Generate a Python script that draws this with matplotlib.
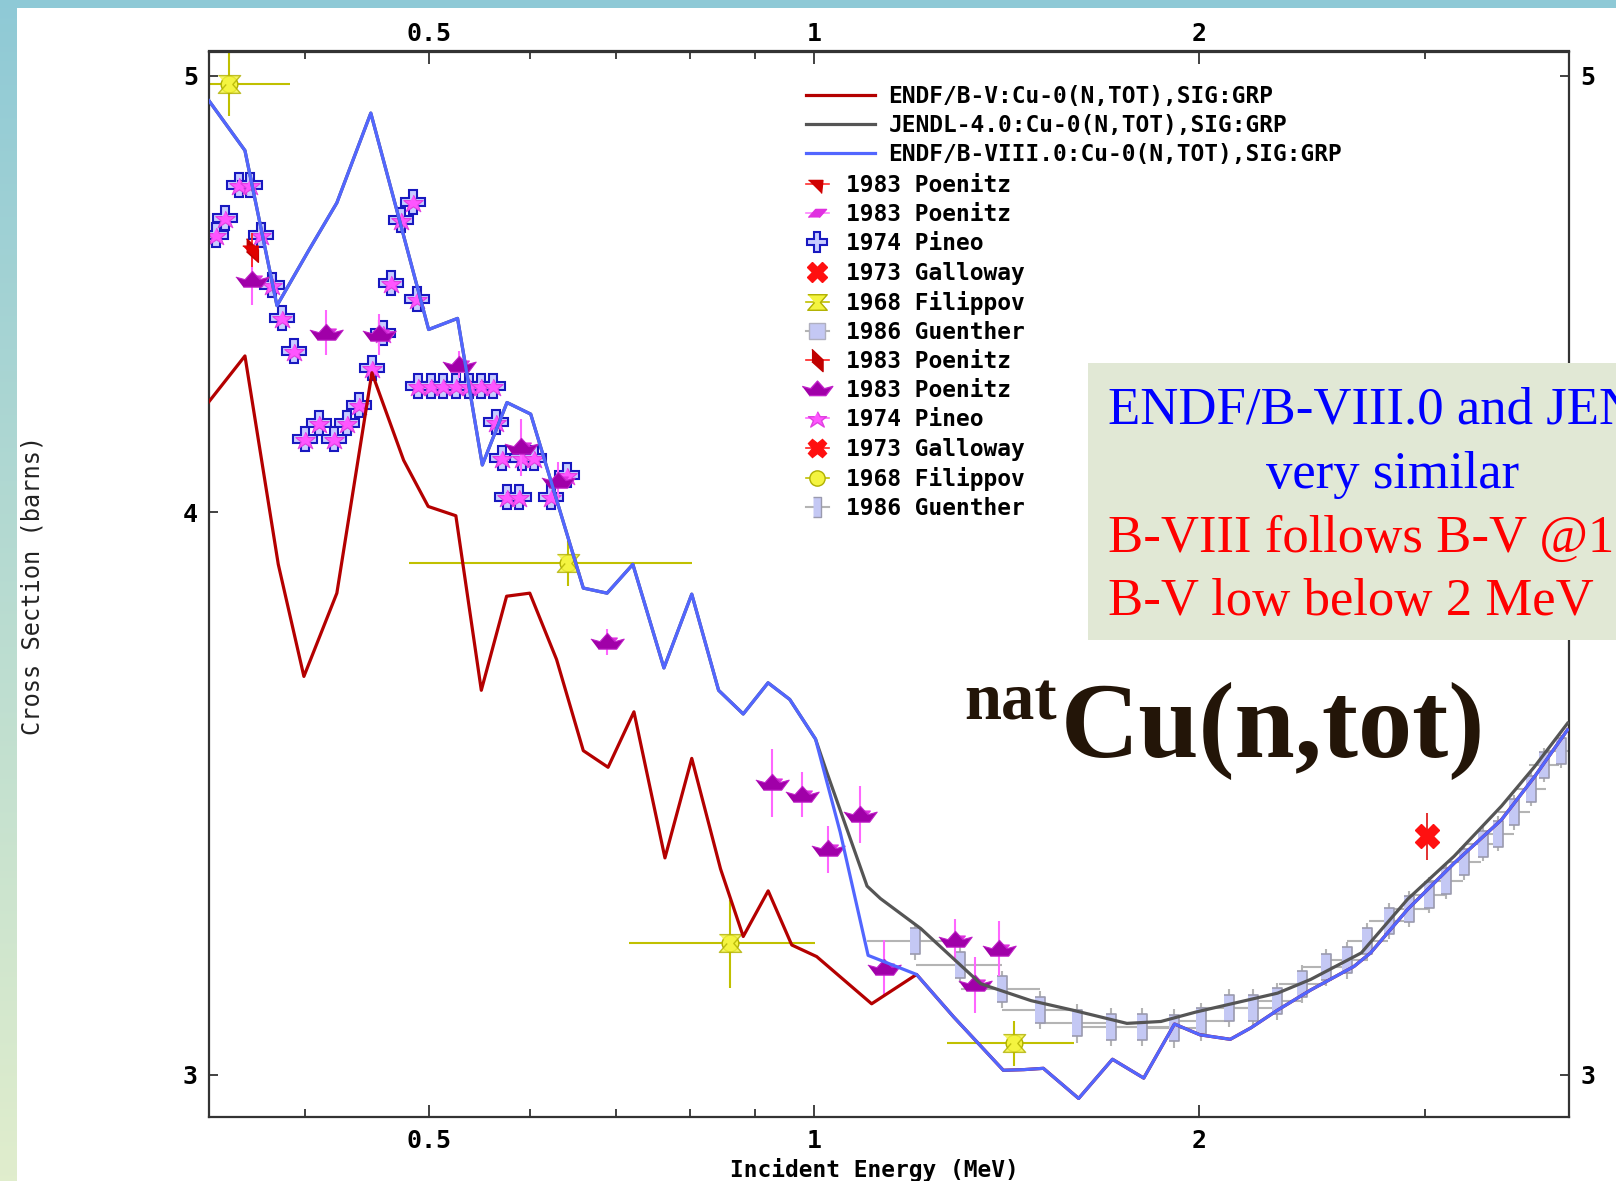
import numpy as np
import matplotlib.pyplot as plt
from matplotlib.lines import Line2D
from matplotlib.patches import Rectangle
from matplotlib.ticker import NullFormatter

plt.rcParams['font.family'] = ['DejaVu Sans Mono']
plt.rcParams['font.weight'] = 'bold'
plt.rcParams['font.size'] = 16.5

# ---- evaluated data, natCu total cross section (MeV, barns)
e_b8 = [0.3368, 0.3593, 0.3806, 0.4031, 0.4239, 0.4506, 0.4747, 0.5000, 0.5267,
        0.5507, 0.5757, 0.6008, 0.6604, 0.6893, 0.7220, 0.7635, 0.8027, 0.8424,
        0.8806, 0.9208, 0.9574, 1.0029, 1.0485, 1.1024, 1.2028, 1.286, 1.406,
        1.459, 1.511, 1.610, 1.711, 1.810, 1.913, 2.003, 2.115, 2.195, 2.303,
        2.444, 2.642, 2.722, 2.910, 3.164, 3.445, 3.656, 3.880]
s_b8 = [4.937, 4.813, 4.446, 4.574, 4.686, 4.906, 4.642, 4.392, 4.417,
        4.098, 4.231, 4.206, 3.848, 3.838, 3.895, 3.694, 3.836, 3.652,
        3.608, 3.666, 3.635, 3.562, 3.396, 3.189, 3.158, 3.090, 3.007,
        3.008, 3.010, 2.964, 3.024, 2.995, 3.079, 3.062, 3.055, 3.073, 3.101,
        3.133, 3.171, 3.193, 3.265, 3.343, 3.418, 3.494, 3.579]

e_b5_low = [0.3368, 0.3593, 0.3815, 0.3995, 0.4239, 0.4515, 0.4780, 0.4996,
            0.5251, 0.5497, 0.5753, 0.5998, 0.6294, 0.6604, 0.6905, 0.7234,
            0.7649, 0.8027, 0.8454, 0.8806, 0.921, 0.9609, 1.005, 1.1094]
s_b5_low = [4.233, 4.333, 3.895, 3.678, 3.838, 4.296, 4.108, 4.012,
            3.993, 3.652, 3.832, 3.838, 3.710, 3.541, 3.511, 3.612,
            3.352, 3.527, 3.333, 3.220, 3.296, 3.206, 3.187, 3.111]

e_jendl_hi = [1.0235, 1.1003, 1.1271, 1.2120, 1.350, 1.478, 1.592, 1.756, 1.867,
              1.989, 2.303, 2.444, 2.677, 2.910, 3.164, 3.445, 3.656, 3.880]
s_jendl_hi = [3.502, 3.304, 3.283, 3.233, 3.143, 3.116, 3.101, 3.080, 3.083,
              3.098, 3.128, 3.150, 3.193, 3.282, 3.355, 3.442, 3.512, 3.591]

# B-V = B-VIII above 1.2 MeV, JENDL = B-VIII below 1 MeV
e_b5 = e_b5_low + e_b8[24:]
s_b5 = s_b5_low + s_b8[24:]
e_jendl = e_b8[:22] + e_jendl_hi
s_jendl = s_b8[:22] + s_jendl_hi

# ---- EXFOR data
e_poe_r = [0.3639]
s_poe_r = [4.575]
d_poe_r = [0.04]

e_poe = [0.3639, 0.4154, 0.4572, 0.5281, 0.5900, 0.6305, 0.6890, 0.9272, 0.9785,
         1.0265, 1.0874, 1.1337, 1.2897, 1.3373, 1.3948]
s_poe = [4.505, 4.385, 4.381, 4.314, 4.135, 4.065, 3.744, 3.483, 3.462,
         3.367, 3.427, 3.169, 3.214, 3.142, 3.200]
d_poe = [0.058, 0.051, 0.045, 0.03, 0.06, 0.04, 0.025, 0.061, 0.04,
         0.04, 0.05, 0.045, 0.035, 0.045, 0.045]

e_pin = [0.3408, 0.3469, 0.3553, 0.3628, 0.3695, 0.3772, 0.3842, 0.3924, 0.4006,
         0.4103, 0.4216, 0.4318, 0.4409, 0.4518, 0.4604, 0.4669, 0.4754, 0.4861,
         0.4899, 0.4908, 0.5018, 0.5131, 0.5254, 0.5376, 0.5497, 0.5610, 0.5641,
         0.5709, 0.5918, 0.6043, 0.6417, 0.5761, 0.5882, 0.6226]
s_pin = [4.610, 4.650, 4.729, 4.729, 4.610, 4.494, 4.417, 4.344, 4.152,
         4.187, 4.152, 4.187, 4.226, 4.307, 4.385, 4.497, 4.646, 4.689,
         4.460, 4.266, 4.266, 4.266, 4.266, 4.266, 4.266, 4.266, 4.190,
         4.113, 4.113, 4.113, 4.078, 4.032, 4.032, 4.032]

e_gal = [3.013]
s_gal = [3.389]
d_gal = [0.04]

e_fil = [0.3489, 0.6429, 0.8591, 1.4345]
s_fil = [4.980, 3.897, 3.209, 3.049]
dx_fil = [0.041, 0.160, 0.142, 0.163]
dy_fil = [0.082, 0.045, 0.072, 0.035]

e_gue = [1.2002, 1.3016, 1.4031, 1.5031, 1.6057, 1.7052, 1.8055, 1.9111, 2.007,
         2.1105, 2.2038, 2.3024, 2.4082, 2.5117, 2.6115, 2.7070, 2.8149, 2.9179,
         3.0245, 3.117, 3.222, 3.330, 3.421, 3.525, 3.633, 3.721, 3.834]
s_gue = [3.212, 3.174, 3.134, 3.101, 3.080, 3.075, 3.075, 3.072, 3.083,
         3.104, 3.104, 3.115, 3.143, 3.170, 3.181, 3.212, 3.245, 3.265,
         3.289, 3.313, 3.345, 3.376, 3.394, 3.431, 3.473, 3.515, 3.540]
dx_gue = 0.1
dy_gue = 0.03

x_major = [0.5, 1, 2]
x_major_lab = ['0.5', '1', '2']
x_minor = [0.4, 0.6, 0.7, 0.8, 0.9, 3]
y_major = [3, 4, 5]
y_major_lab = ['3', '4', '5']

labels_lines = ['ENDF/B-V:Cu-0(N,TOT),SIG:GRP',
                'JENDL-4.0:Cu-0(N,TOT),SIG:GRP',
                'ENDF/B-VIII.0:Cu-0(N,TOT),SIG:GRP']
labels_data = ['1983 Poenitz', '1983 Poenitz', '1974 Pineo', '1973 Galloway',
               '1968 Filippov', '1986 Guenther', '1983 Poenitz', '1983 Poenitz',
               '1974 Pineo', '1973 Galloway', '1968 Filippov', '1986 Guenther']

c_b5, c_jendl, c_b8 = '#b40000', '#555555', '#5266ff'

# marker shapes
crown = [(-1.0, 0.2), (-0.45, 0.05), (0.0, 0.55), (0.45, 0.05), (1.0, 0.2),
         (0.55, -0.4), (-0.55, -0.4)]
star = [(0, 0.75), (0.3, 0.2), (1, 0.2), (0.45, -0.25), (0.75, -0.95), (0, -0.45),
        (-0.75, -0.95), (-0.45, -0.25), (-1, 0.2), (-0.3, 0.2)]
hourglass = [(-1, 0.8), (1, 0.8), (0.3, 0), (1, -0.8), (-1, -0.8), (-0.3, 0)]
flag = [(-1, 0.45), (0.6, 0.45), (0.45, -1)]
diagflag = [(-0.5, 1), (0.5, 0.05), (0.5, -1), (-0.5, -0.1)]
para = [(-1, -0.45), (-0.2, 0.45), (1, 0.45), (0.2, -0.45)]
slab = [(-0.4, -1), (0.4, -1), (0.4, 1), (-0.4, 1)]

W, H = 1616, 1181
fig = plt.figure(figsize=(W / 100, H / 100), dpi=100)

# slide border
bg = np.ones((H, W, 3))
t = np.linspace(0, 1, H)[:, None]
top_c = np.array([0.56, 0.79, 0.84])
bot_c = np.array([0.88, 0.93, 0.80])
bg[:, :17] = (top_c * (1 - t) + bot_c * t)[:, None, :]
bg[:8, :] = top_c
fig.figimage(bg, 0, 0, origin='upper', zorder=-5)

ax = fig.add_axes([209 / W, 1 - 1117 / H, 1360 / W, 1065.5 / H])
ax.set_xscale('log')
ax.set_yscale('log')

# experimental points
ax.errorbar(e_gue, s_gue, xerr=dx_gue, yerr=dy_gue, fmt='none', ecolor='#b4b4b4',
            elinewidth=1.5, zorder=2)
ax.plot(e_gue, s_gue, ls='none', marker=slab, ms=19, mfc='#c4c8f4', mec='#9a9aae',
        mew=1.2, zorder=2.2)

ax.errorbar(e_fil, s_fil, xerr=dx_fil, yerr=dy_fil, fmt='none', ecolor='#c0c000',
            elinewidth=1.5, zorder=2)
ax.plot(e_fil, s_fil, ls='none', marker='o', ms=12, mfc='#f4f440', mec='#b0b000',
        zorder=2.2)
ax.plot(e_fil, s_fil, ls='none', marker=hourglass, ms=16, mfc='#f4f440',
        mec='#b0b000', mew=1, alpha=0.8, zorder=2.3)

ax.plot(e_pin, s_pin, ls='none', marker='P', ms=17, mfc='#c8ccff', mec='#1818c0',
        mew=1.5, zorder=2.4)
ax.plot(e_pin, s_pin, ls='none', marker=star, ms=14, mfc='#ff55ff', mec='#e040e0',
        mew=0.8, zorder=2.5)

ax.errorbar(e_poe, s_poe, yerr=d_poe, fmt='none', ecolor='#ff66ff', elinewidth=1.5,
            zorder=2.6)
ax.plot(e_poe, s_poe, ls='none', marker=para, ms=14, mfc='#e030e0', mec='#e030e0',
        zorder=2.6)
ax.plot(e_poe, s_poe, ls='none', marker=crown, ms=24, mfc='#a000a8', mec='#c020c8',
        mew=0.8, zorder=2.7)

ax.errorbar(e_poe_r, s_poe_r, yerr=d_poe_r, fmt='none', ecolor='#ff2020',
            elinewidth=1.3, zorder=2.6)
ax.plot(e_poe_r, s_poe_r, ls='none', marker=diagflag, ms=17, mfc='#c00000',
        mec='#c00000', zorder=2.7)
ax.plot(e_poe_r, s_poe_r, ls='none', marker=flag, ms=14, mfc='#e00000',
        mec='#e00000', zorder=2.8)

ax.errorbar(e_gal, s_gal, yerr=d_gal, fmt='none', ecolor='#e02020', elinewidth=1.3,
            zorder=2.6)
ax.plot(e_gal, s_gal, ls='none', marker='X', ms=17, mfc='#ff1010', mec='#ff1010',
        zorder=2.8)

# evaluations
ax.plot(e_b5, s_b5, color=c_b5, lw=2.3, zorder=3)
ax.plot(e_jendl, s_jendl, color=c_jendl, lw=2.3, zorder=3.1)
ax.plot(e_b8, s_b8, color=c_b8, lw=2.3, zorder=3.2)

ax.set_xlim(0.3368, 3.89)
ax.set_ylim(2.936, 5.063)

ax.set_xticks(x_major)
ax.set_xticklabels(x_major_lab)
ax.set_xticks(x_minor, minor=True)
ax.xaxis.set_minor_formatter(NullFormatter())
ax.set_yticks(y_major)
ax.set_yticklabels(y_major_lab)
ax.set_yticks([], minor=True)
ax.yaxis.set_minor_formatter(NullFormatter())
ax.tick_params(which='both', direction='in', top=False, labeltop=False, right=True,
               labelright=True, width=1.3, color='#333333', labelsize=18)
ax.tick_params(axis='x', which='major', length=9, pad=8.5)
ax.tick_params(axis='x', which='minor', length=5.5)
ax.tick_params(axis='y', which='major', length=6.5, pad=8)
for sp in ax.spines.values():
    sp.set_linewidth(1.6)
    sp.set_color('#333333')

# top energy axis, labels sit closer to the frame
top = ax.secondary_xaxis('top')
top.set_xticks(x_major)
top.set_xticklabels(x_major_lab)
top.set_xticks(x_minor, minor=True)
top.xaxis.set_minor_formatter(NullFormatter())
top.tick_params(which='both', direction='in', width=1.3, color='#333333',
                labelsize=18, pad=4)
top.tick_params(which='major', length=9)
top.tick_params(which='minor', length=5.5)
top.spines['top'].set_linewidth(1.6)
top.spines['top'].set_color('#333333')

fig.text(874 / W, 1 - 1177 / H, 'Incident Energy (MeV)', ha='center', va='baseline',
         fontsize=16.5)
fig.text(33 / W, 1 - 585 / H, 'Cross Section (barns)', rotation=90, ha='center',
         va='center', fontsize=17, weight='normal', color='#222222')

# legends
line_handles = [Line2D([], [], color=c, lw=2.3) for c in (c_b5, c_jendl, c_b8)]
data_handles = [
    Line2D([], [], color='#ff3030', lw=1.2, marker=flag, ms=13, mfc='#d00000', mec='#d00000'),
    Line2D([], [], color='#ff80ff', lw=1.2, marker=para, ms=13, mfc='#e030e0', mec='#e030e0'),
    Line2D([], [], ls='none', marker='P', ms=15, mfc='#c8ccff', mec='#1818c0', mew=1.5),
    Line2D([], [], ls='none', marker='X', ms=15, mfc='#ff1010', mec='#ff1010'),
    Line2D([], [], color='#c0c000', lw=1.2, marker=hourglass, ms=14, mfc='#f4f440', mec='#b0b000'),
    Line2D([], [], color='#b4b4b4', lw=1.5, marker='s', ms=11, mfc='#c4c8f4', mec='#b0b0c0'),
    Line2D([], [], color='#ff2020', lw=1.2, marker=diagflag, ms=16, mfc='#c00000', mec='#c00000'),
    Line2D([], [], ls='none', marker=crown, ms=22, mfc='#a000a8', mec='#c020c8'),
    Line2D([], [], color='#ff66ff', lw=1.2, marker=star, ms=13, mfc='#ff55ff', mec='#e040e0'),
    Line2D([], [], color='#ff2020', lw=1.2, marker='X', ms=13, mfc='#ff1010', mec='#ff1010'),
    Line2D([], [], color='#c0c000', lw=1.2, marker='o', ms=11, mfc='#f4f440', mec='#b0b000'),
    Line2D([], [], color='#b4b4b4', lw=1.5, marker=slab, ms=15, mfc='#c4c8f4', mec='#9a9aae'),
]
prop = {'family': 'DejaVu Sans Mono', 'weight': 'bold', 'size': 16.5}
fig.legend(line_handles, labels_lines, loc='upper left',
           bbox_to_anchor=(806 / W, 1 - 85 / H), frameon=False, borderpad=0,
           borderaxespad=0, handlelength=3.0, handletextpad=0.6, labelspacing=0.27,
           prop=prop)
fig.legend(data_handles, labels_data, loc='upper left',
           bbox_to_anchor=(806 / W, 1 - 174 / H), frameon=False, borderpad=0,
           borderaxespad=0, handlelength=1.0, handletextpad=0.75, labelspacing=0.27,
           prop=prop)

# comment box
fig.add_artist(Rectangle((1088 / W, 1 - 640 / H), (W - 1088) / W, 277 / H,
                         transform=fig.transFigure, facecolor='#e1e8d5',
                         edgecolor='none', zorder=6))
serif = {'family': 'Liberation Serif', 'weight': 'normal', 'size': 38, 'zorder': 7}
fig.text(1108 / W, 1 - 423 / H, 'ENDF/B-VIII.0 and JENDL-4.0', color='#0000ff',
         va='baseline', **serif)
fig.text(1393 / W, 1 - 488 / H, 'very similar', color='#0000ff', ha='center',
         va='baseline', **serif)
fig.text(1108 / W, 1 - 552 / H, 'B-VIII follows B-V @1.2 MeV', color='#ff0000',
         va='baseline', **serif)
fig.text(1108 / W, 1 - 615 / H, 'B-V low below 2 MeV', color='#ff0000',
         va='baseline', **serif)

# reaction label
fig.text(964 / W, 1 - 720 / H, 'nat', color='#231508', family='Liberation Serif',
         weight='bold', fontsize=48, va='baseline', zorder=7)
fig.text(1061 / W, 1 - 757 / H, 'Cu(n,tot)', color='#231508',
         family='Liberation Serif', weight='bold', fontsize=78, va='baseline',
         zorder=7)

fig.savefig('out.png', dpi=100)
